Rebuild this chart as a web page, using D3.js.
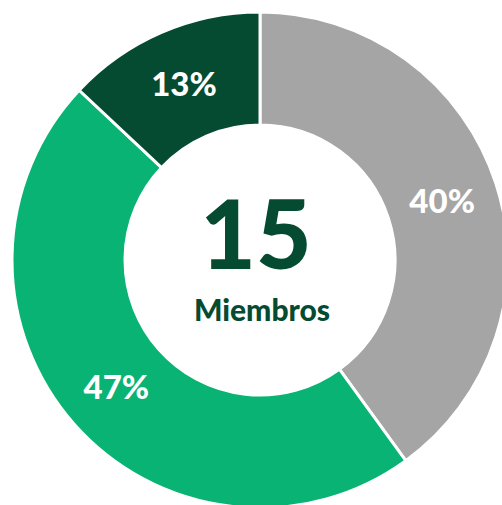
<!DOCTYPE html>
<html>
<head>
<meta charset="utf-8">
<script src="https://cdn.jsdelivr.net/npm/d3@7"></script>
<style>
  body { margin: 0; background: #fff; overflow: hidden; }
  text { font-family: Lato, "Open Sans", sans-serif; font-weight: 900; }
</style>
</head>
<body>
<script>
// slice data, clockwise from 12 o'clock
const categories = ['A', 'B', 'C'];
const values = [40, 47, 13];
const labels = ['40%', '47%', '13%'];
const colors = ['#a5a5a5', '#08b374', '#044b31'];
const centerValue = '15';
const centerLabel = 'Miembros';

const W = 502, H = 505;
const cx = 260, cy = 260;
const outerR = 248, innerR = 135;

const svg = d3.select('body').append('svg')
    .attr('width', W)
    .attr('height', H);

const g = svg.append('g')
    .attr('transform', `translate(${cx},${cy})`);

const pie = d3.pie().sort(null).value(d => d.value);
const arc = d3.arc().innerRadius(innerR).outerRadius(outerR);

const data = categories.map((c, i) => ({ name: c, value: values[i], label: labels[i], color: colors[i] }));
const arcs = pie(data);

g.selectAll('path')
    .data(arcs)
    .enter()
    .append('path')
    .attr('d', arc)
    .attr('fill', d => d.data.color)
    .attr('stroke', '#fff')
    .attr('stroke-width', 3);

g.selectAll('text.pct')
    .data(arcs)
    .enter()
    .append('text')
    .attr('class', 'pct')
    .attr('transform', d => `translate(${arc.centroid(d)})`)
    .attr('text-anchor', 'middle')
    .attr('dy', '0.36em')
    .attr('fill', '#fff')
    .attr('font-size', 33)
    .text(d => d.data.label);

g.append('text')
    .attr('text-anchor', 'middle')
    .attr('x', -4)
    .attr('y', 9)
    .attr('fill', '#044b31')
    .attr('font-size', 96)
    .text(centerValue);

g.append('text')
    .attr('text-anchor', 'middle')
    .attr('x', 2)
    .attr('y', 61)
    .attr('fill', '#044b31')
    .attr('font-size', 30)
    .text(centerLabel);
</script>
</body>
</html>
